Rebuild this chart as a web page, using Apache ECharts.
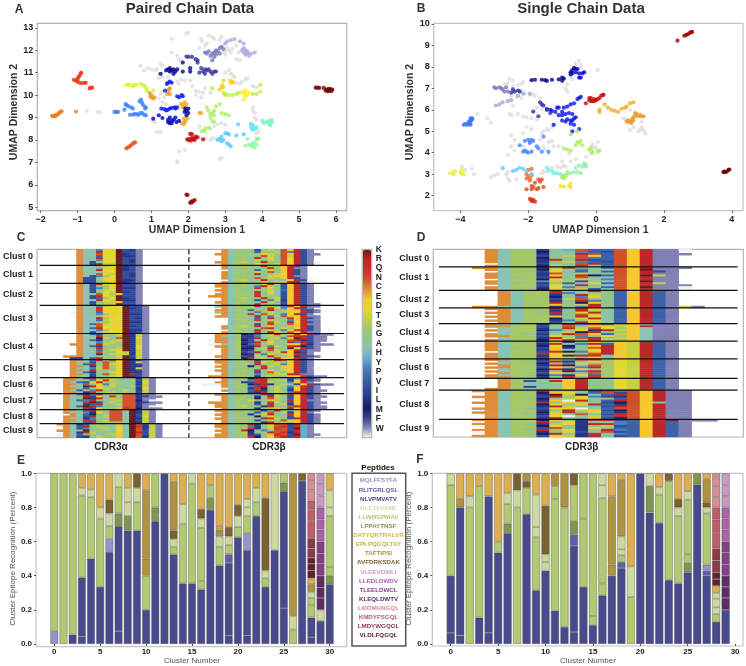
<!DOCTYPE html>
<html>
<head>
<meta charset="utf-8">
<style>html,body{margin:0;padding:0;background:#fff}#chart{width:746px;height:666px}</style>
<script src="https://cdn.jsdelivr.net/npm/echarts@6/dist/echarts.min.js"></script>
</head>
<body>
<div id="chart"></div>
<script>
// panel A, one list per UMAP cluster
const aGrey = [[2,12.78],[1.95,12.75],[1.55,12.5],[2.35,12.5],[2.37,12.4],[2.55,12.65],[2.65,12.6],[2.7,12.5],[2.9,12.6],[2.85,12.45],[2.5,12.3],[2.3,12.1],[2.45,12.2],[3,12.3],[3.05,12.1],[3.1,12],[3,11.95],[3.15,11.9],[3.2,12.05],[2.95,11.9],[3,11.8],[3.3,11.6],[3.4,11.55],[3.35,11.9],[3.3,12.2],[1.55,11.9],[1.7,11.75],[1.75,11.6],[1.8,11.55],[2.05,11.75],[1.3,11.3],[1.25,11.4],[1.15,11.15],[1,11.15],[0.9,11.2],[0.8,11.1],[0.7,11.3],[1.1,11.1],[1.2,10.9],[1.2,10.75],[1.3,10.8],[1.45,10.8],[1.8,10.7],[1.9,10.65],[1.7,10.6],[1.75,10.5],[1.5,10.3],[1.3,10.15],[1.25,10.05],[1.35,9.9],[1.3,9.7],[1.4,9.6],[1.2,9.85],[2.05,10.65],[2.1,10.4],[2.2,10.2],[2.3,10.15],[2.4,10.1],[2.45,10.3],[2.2,10],[2.35,9.9],[2.6,10.1],[3.3,10.55],[3.45,10.6],[3.55,10.7],[3.6,10.75],[3.75,10.4],[3.85,10.35],[3.4,10.5],[3.25,10.8],[3.15,10.95],[3,11],[3.1,11.1],[3.2,10.9],[3.75,9.45],[3.75,9.3],[3.8,9.2],[3.8,9],[3.85,8.9],[3.7,8.75],[3.8,8.55],[3.9,8.4],[3.85,8.3],[2.9,8.75],[3,8.7],[2.8,8.7],[2.7,8.6],[2.6,8.5],[2.3,8.6],[2.4,8.4],[1.15,8.35],[1.25,8.35],[1.1,8.8],[1.05,8.85],[2.4,8],[2.45,8.05],[2.6,8],[2.65,8.1],[2.75,8.05],[1.9,7.55],[1.75,7.5],[1.7,7.05],[1.7,7],[2.9,7.2],[2.85,7.15],[-0.75,9.3],[-0.45,9.25],[-0.4,9.22]];
const aRedOrange = [[-0.9,11],[-0.92,10.95],[-0.95,10.85],[-0.98,10.8],[-1,10.7],[-1.05,10.65],[-1.1,10.68],[-1,10.6],[-0.95,10.55],[-0.88,10.53],[-0.8,10.55],[-0.78,10.55],[-0.65,10.33],[-0.6,10.33],[-0.67,10.3]];
const aOrangeLeft = [[-1.69,9.08],[-1.66,9.05],[-1.63,9.07],[-1.6,9.1],[-1.58,9.08],[-1.55,9.13],[-1.52,9.17],[-1.5,9.2],[-1.47,9.25],[-1.43,9.28],[-1.04,9.27]];
const aOrangeLine = [[0.32,7.63],[0.36,7.66],[0.4,7.7],[0.43,7.74],[0.47,7.8],[0.5,7.84],[0.54,7.88],[0.56,7.9]];
const aMaroon = [[5.45,10.33],[5.5,10.33],[5.55,10.32],[5.67,10.32],[5.72,10.2],[5.75,10.25],[5.78,10.17],[5.8,10.28],[5.82,10.2],[5.85,10.27],[5.88,10.18],[5.9,10.25]];
const aDarkRed = [[1.95,5.57],[1.98,5.55],[2.05,5.2],[2.08,5.25],[2.1,5.22],[2.13,5.28],[2.17,5.32]];
const aRed = [[2.05,8.27],[2.1,8.26],[2.2,8.15],[2,8],[1.97,8.03],[2.03,8.05],[2.07,7.97],[2.1,8.1],[2.13,8.03],[2.17,8],[2.2,8.1],[2.25,8.12],[2.4,8.03]];
const aLime = [[0.32,10.45],[0.37,10.47],[0.42,10.45],[0.5,10.4],[0.55,10.45],[0.6,10.47],[0.72,10.5],[0.78,10.45],[0.83,10.38],[0.87,10.28],[0.87,10.2],[1.05,10.2]];
const aOrange = [[0.95,10.1],[0.97,9.95],[1,9.9],[1.05,9.85],[1.08,9.9],[1,10],[1.45,10.15],[1.47,10.25],[1.5,10.3],[1.5,10.05],[1.43,10.05]];
const aAmber = [[1.8,9.6],[1.85,9.55],[1.9,9.68],[1.9,9.45],[1.85,9.45],[1.95,9.6],[1.82,8.75],[1.87,8.7],[1.9,8.78],[1.88,8.95],[1.92,8.85],[1.98,8.95],[2.3,9.2],[2.35,9.2]];
const aGold = [[2.85,10.25],[2.9,10.35],[2.95,10.35],[2.92,10.45],[2.95,10.65],[3.13,10.65],[3.15,10.55],[3.2,10.55],[3.2,10.6]];
const aYellow = [[3.45,10.1],[3.5,10.15],[3.55,10.2],[3.6,10.05],[3.65,10.1],[3.55,9.95],[3.5,9.8],[3.55,10]];
const aYellowGreen = [[2.65,10.3],[2.95,10.1],[3,10.05],[3,10],[3.1,10],[3.2,10],[3.3,10.05],[3.35,10.1],[3.75,10.05],[3.85,10.05],[3.95,10.15],[3.95,10.45]];
const aGreen = [[2.5,9.45],[2.55,9.3],[2.6,9.15],[2.6,9],[2.65,9.2],[2.7,9.1],[2.7,9.3],[2.75,9.5],[2.85,9.6],[2.65,8.85],[2.7,8.8],[2.9,9.2],[3,9.15],[3.1,9.1],[2.55,8.55],[2.45,8.5],[2.35,8.4],[2.45,8.4]];
const aSky = [[2.8,8],[2.85,8.05],[2.9,8.15],[2.9,7.95],[2.95,8],[3,8.3],[3.05,8.3],[3.1,8.25],[3.05,7.85],[3.1,7.8],[3.15,7.72],[3.3,8.2],[3.5,8.25],[3.35,8.7]];
const aCyan = [[3.7,8.6],[3.72,8.5],[3.75,8.45],[3.8,8.5],[3.85,8.55],[3.75,8.65],[3.7,8.7]];
const aAqua = [[4,8.85],[4.05,8.75],[4.1,8.8],[4.15,8.8],[4.2,8.85],[4.25,8.9],[4.27,8.8],[4.2,8.7],[4.22,8.65]];
const aMint = [[3.6,8.05],[3.55,7.75],[3.65,7.8],[3.7,7.75],[3.75,7.85],[3.8,7.9],[3.75,7.7],[3.8,7.65],[3.85,7.8],[3.85,8.05],[3.9,8.05]];
const aLightBlue = [[0.3,9.6],[0.33,9.55],[0.38,9.5],[0.45,9.45],[0.5,9.4],[0.6,9.15],[0.42,9.12],[0.5,9.13],[0.55,9.15],[0.65,9.12],[0.7,9.2],[0.75,9.2],[0.8,9.13],[0.85,9.1],[0.68,9.72],[0.72,9.8],[0.75,9.65],[0.78,9.55],[0.85,9.45],[0.83,9.4],[0,9.25],[0.05,9.25],[0.1,9.25],[0.27,9.35]];
const aBlue = [[1.45,10.55],[1.5,10.6],[1.55,10.55],[1.42,10.5],[1.37,10.2],[1.7,9.95],[1.75,9.9],[1.85,9.95],[1.82,10],[1.63,9.45],[1.55,9.43],[1.5,9.4],[1.45,9.35],[1.4,9.32],[1.65,9.4],[1.7,9.45],[1.27,9.4],[1.35,9.38]];
const aDeepBlue = [[1.05,8.95],[1.2,9.1],[1.3,8.98],[1.45,8.9],[1.45,8.8],[1.5,8.75],[1.55,8.85],[1.55,8.75],[1.6,8.9],[1.68,8.8],[1.75,8.85],[1.5,9],[1.65,9]];
const aNavy = [[1.25,10.95],[1.4,11.1],[1.45,11.15],[1.5,11.05],[1.5,11.2],[1.55,11.1],[1.6,11.15],[1.6,10.95],[1.7,11.15],[1.65,11.05],[1.85,11.45],[1.85,11.05],[2.05,11.2],[2.05,11.05],[1.9,9.25],[1.95,9.3],[2,9.2],[1.95,9.1],[1.92,9.4],[2,9.4]];
const aIndigo = [[2.3,11],[2.4,11.05],[2.45,10.95],[2.5,11.1],[2.55,11.15],[2.6,11.05],[2.65,10.95],[2.7,11.05],[2.75,11.05],[2.45,11.15],[2.35,11.2],[2.25,11.45],[2.25,11.55],[2.2,11.6],[2.1,11.7],[2,11.7],[1.95,11.72]];
const aPurple = [[2.45,11.9],[2.5,11.85],[2.55,11.95],[2.6,11.75],[2.65,11.85],[2.7,11.9],[2.75,12],[2.8,11.95],[2.85,12.1],[2.85,11.85],[2.9,12.15],[2.95,12.05],[2.7,11.7],[2.65,11.55],[2.75,11.8]];
const aLavender = [[3,12.3],[3.05,12.4],[3.15,12.45],[3.25,12.5],[3.4,12.4],[3.5,12.3],[3.5,12.1],[3.45,12],[3.5,11.9],[3.55,11.8],[3.6,11.85],[3.65,11.75],[3.7,11.85],[3.8,11.9],[3.55,12],[3.6,11.95]];
const pairedSets = [aGrey,aRedOrange,aOrangeLeft,aOrangeLine,aMaroon,aDarkRed,aRed,aLime,aOrange,aAmber,aGold,aYellow,aYellowGreen,aGreen,aSky,aCyan,aAqua,aMint,aLightBlue,aBlue,aDeepBlue,aNavy,aIndigo,aPurple,aLavender];
const pairedSetColors = ['#dfdfdf','#e8321a','#ee7b24','#e95a20','#6b0000','#990000','#cc0a0a','#d2f530','#e8962e','#f2a820','#f5d020','#fff020','#b8f040','#a8f060','#5ac8ff','#60e8f0','#80f0c0','#90f8a0','#3a80ff','#0a1aee','#0000c8','#00008b','#33339a','#7876b8','#aaaadc'];

// panel B
const bGrey = [[-0.5,8.28],[-0.6,8.15],[-0.45,8.1],[-0.45,7.95],[0.05,7.85],[-0.75,7.55],[-0.7,7.4],[-0.85,7.2],[-0.9,7],[-0.85,6.85],[-2.55,7.45],[-2.45,7.35],[-2.6,7.25],[-2.15,7.3],[-2.2,7.2],[-2.3,7.15],[-2.45,7.1],[-2.7,7.2],[-2.2,6.9],[-2.1,6.75],[-1.95,6.7],[-1.85,6.7],[-1.8,6.65],[-2.5,6.6],[-2.35,6.6],[-2.2,6.55],[-1.65,6.55],[-2.45,6.2],[-1.75,6.1],[-1.6,6.05],[-2.55,5.8],[-2.5,5.75],[-2.3,5.8],[-2.15,5.7],[-2.05,5.65],[-1.9,5.6],[-3.5,5.8],[-3.2,5.6],[-3.1,5.4],[-1.75,5.55],[-2.05,5.2],[-1.9,5.1],[-2.15,4.9],[-1.6,4.9],[-1.55,5],[-1.45,5.1],[-1.3,5.2],[-1.25,5.3],[-1.4,5.05],[-2.5,4.8],[-2.4,4.6],[-2.5,4.3],[-2.4,4.1],[-2.15,4.3],[-1.65,4.6],[-1.4,4.5],[-1.25,4.3],[-1.1,4.3],[-1.3,4.55],[-1.55,4.3],[-1.5,4.15],[-1.4,3.95],[-2.6,3.9],[-0.8,3.95],[-0.6,3.7],[-1,3.6],[-0.95,3.4],[-0.75,3.6],[-0.1,4.4],[0.05,4.5],[0,4.25],[-0.05,4.2],[-0.15,3.95],[-0.3,3.8],[-2.6,3.1],[-2.65,3],[-3.95,3.35],[-3.85,3.2],[-3.65,3.25],[-3.6,3],[-3.1,2.85],[-3,2.95],[-2.9,3],[-2.6,2.8],[-2.55,2.7],[-2.35,2.75],[-1.55,3.15],[-1.6,3.05],[-1.45,3.1],[-1.3,3.3],[-1.15,3.35],[-1.05,3.3],[-0.9,3.35],[-1.9,3.2],[0.8,5.6],[0.9,5.55],[1.1,5.2],[1,5.05],[1.25,5],[1.3,5.1],[1.35,5.2],[1.4,5.05],[1.45,4.9],[1.35,5.45],[1,6]];
const bDarkRed = [[2.4,9.22],[2.6,9.45],[2.65,9.48],[2.7,9.52],[2.75,9.57],[2.8,9.62],[2.83,9.63]];
const bMaroon = [[3.75,3.1],[3.8,3.1],[3.85,3.12],[3.9,3.2],[3.93,3.22],[3.78,3.12]];
const bRed = [[-0.3,6.3],[-0.2,6.45],[-0.2,6.55],[-0.15,6.4],[-0.1,6.4],[-0.05,6.4],[0,6.45],[0.05,6.5],[0.1,6.55],[0.15,6.65],[0.2,6.7],[0.22,6.7],[-0.15,6.55],[-0.05,6.5]];
const bAmber = [[0.25,6.25],[0.1,6],[0.1,5.9],[0.35,6.1],[0.45,6],[0.55,5.95],[0.65,5.9],[0.75,6.05],[0.85,6.1],[0.9,6.15],[1,6.3],[1.1,6.35]];
const bOrange = [[0.9,5.45],[0.95,5.5],[1,5.4],[1.05,5.55],[1.1,5.5],[1.1,5.65],[1.15,5.7],[1.2,5.8],[1.25,5.7],[1.3,5.75],[1.35,5.7],[1.4,5.7],[1.05,5.4],[1.15,5.85]];
const bNavy = [[-1.9,7.38],[-1.8,7.4],[-1.6,7.4],[-1.5,7.38],[-1.45,7.35],[-1.3,7.4],[-1.1,7.42],[-1,7.35],[-1,7.5],[-0.95,7.45],[-0.75,7.75],[-0.7,7.85],[-0.65,7.95],[-0.6,7.9]];
const bDeepBlue = [[-0.75,7.65],[-0.7,7.7],[-0.6,7.75],[-0.55,7.9],[-0.5,7.7],[-0.4,7.7],[-0.35,7.75],[-0.5,7.5],[-0.45,7.5]];
const bBlue = [[-1.45,6],[-1.35,6],[-1.3,5.95],[-1.2,5.9],[-1.15,6.1],[-1.1,6.1],[-1,5.9],[-0.95,6.1],[-0.85,6.15],[-0.75,6.25],[-0.65,6.3],[-0.55,6.5],[-0.5,6.55],[-0.45,6.6],[-1.1,5.75],[-1,5.75],[-0.9,5.8],[-0.8,5.85],[-0.7,5.8],[-0.65,5.6],[-0.6,5.65],[-1.25,5.3],[-1,5.5],[-0.9,5.45],[-0.85,5.55],[-0.75,5.35],[-0.7,5.5],[-0.65,5.3],[-0.7,5],[-0.5,5.1],[-0.75,5.5]];
const bIndigo = [[-1.85,5.92],[-1.65,6.35],[-1.6,6.25],[-1.55,6.2],[-1.45,6.05],[-1.7,5.7],[-1.35,5.85],[-2.45,6.95],[-2.4,6.85],[-2.3,6.9],[-2.25,6.85],[-2.5,6.8]];
const bPurple = [[-3,7.05],[-2.95,7],[-2.85,7.05],[-2.8,7],[-2.75,6.95],[-2.7,6.85],[-2.6,6.85],[-2.65,7.05]];
const bLavender = [[-2.95,6.2],[-2.85,6.25],[-2.75,6.35],[-2.6,6.4],[-2.5,6.45],[-2.3,6.65],[-2.15,6.75],[-1.95,6.75]];
const bRoyal = [[-3.9,5.3],[-3.8,5.3],[-3.75,5.35],[-3.7,5.3],[-3.85,5.35],[-3.75,5.45],[-3.7,5.4],[-3.7,5.6],[-3.65,5.55],[-3.7,5.5],[-3.65,5.6]];
const bBlueMid = [[-2.1,4.55],[-2,4.6],[-1.95,4.5],[-1.9,4.6],[-1.85,4.55],[-1.95,4.45],[-2.25,4.35],[-2.1,4.1],[-2.15,4.05],[-2.05,4.05],[-2,4],[-1.9,4.05],[-1.7,4.2],[-1.6,4.05],[-1.4,4.05],[-1.75,4.3],[-1.55,4.75]];
const bOrangeDark = [[-2.05,3],[-2,3.2],[-2,2.9],[-1.95,2.8],[-2.05,2.8],[-1.9,2.95],[-1.9,3.25],[-1.95,2.7]];
const bOrangeRed = [[-2.05,2.3],[-1.9,2.45],[-1.9,2.3],[-1.85,2.4],[-1.75,2.3],[-1.7,2.35],[-1.8,2.6],[-1.7,2.75],[-1.6,2.75],[-1.55,2.4],[-1.65,2.65]];
const bRedOrange = [[-1.95,1.85],[-1.9,1.8],[-1.85,1.75],[-1.8,1.72],[-1.85,1.8],[-1.9,1.75]];
const bLime = [[-4.3,3.05],[-4.2,3.1],[-4.2,3],[-4.15,3.15],[-3.95,3.2],[-4,3.1],[-3.95,3],[-3.9,3]];
const bYellow = [[-1.05,2.45],[-0.95,2.42],[-0.8,2.45],[-0.75,2.55],[-0.75,2.4]];
const bGreen = [[-0.95,4.2],[-0.85,4.15],[-0.75,4.1],[-0.6,4.35],[-0.55,4.5],[-0.45,4.55],[-0.5,4.45],[-0.4,4.35],[-0.2,4.15],[-0.15,4.25],[-0.15,4.1],[-0.1,4],[0.05,4.05],[0.1,4.1],[-0.75,4.85],[-0.55,5]];
const bMint = [[-0.85,3.1],[-0.75,3.05],[-0.65,3.1],[-0.55,3.1],[-0.6,3.3],[-0.45,3.05],[-0.35,3.5],[-0.4,3.35],[-0.3,3.35],[-0.3,3.45],[-0.5,3.4]];
const bAqua = [[-1.45,3.3],[-1.4,3.2],[-1.3,3.15],[-1.25,3.05],[-1.15,3.05],[-1.05,3]];
const bSky = [[-2.75,3.28],[-2.45,3.15],[-2.35,3.2],[-2.25,3.3],[-2.15,3.25],[-2.05,3.15],[-1.9,3]];
const bYellowGreen = [[-1,2.85],[-0.95,2.95],[-0.9,2.9],[-0.95,2.8],[-0.85,3]];
const singleSets = [bGrey,bDarkRed,bMaroon,bRed,bAmber,bOrange,bNavy,bDeepBlue,bBlue,bIndigo,bPurple,bLavender,bRoyal,bBlueMid,bOrangeDark,bOrangeRed,bRedOrange,bLime,bYellow,bGreen,bMint,bAqua,bSky,bYellowGreen];
const singleSetColors = ['#dfdfdf','#9a0000','#6b0000','#cc0a0a','#f5ab20','#ea9a28','#00008b','#0000cc','#0a14ee','#30309a','#7b78b8','#a8a8d8','#3a6fff','#4488ff','#e8702a','#e04a1a','#e02a10','#e4f53a','#f5e020','#a8f060','#90f0b0','#70f0e0','#60c8ff','#aaf060'];

// residues from the bottom of the colour bar to the top
const residues = 'WFMLIVPYHAGSTDECNQRK';
const residueColors = ['#f0f0f5','#8080b4','#3a3a8e','#1c1c60','#25358a','#2f4d9c','#3c62aa','#4a80b8','#60b0d0','#88c3b3','#92c48c','#a4c768','#c6d040','#e0d830','#f5c830','#df8c36','#d05028','#c83028','#bc2828','#6a1820'];

const clusterNames = ['Clust 0','Clust 1','Clust 2','Clust 3','Clust 4','Clust 5','Clust 6','Clust 7','Clust 8','Clust 9'];

// panel C: one row per receptor, alpha starts at column 3, beta at column 25
const alphaColStart = 3;
const betaColStart = 25;
const pairedClusterSizes = [8,9,11,14,13,9,8,8,7,7];
const pairedAlpha = [
'...CAAYDDKVIF...','...CAGRDDKVVF...','...CAANDDKIVF...','...CAAPDDKIIF...','...CAGRDDKVVF...','...CAAYDDKVIF...','...CAVGDDKVIF...','...CAVQTTKVVF...',
'...CAAGTDKIVF...','...CAAHEEKIVF...','...CAARDDKIVF...','...CAAAEDKVVF...','...CAGNDTKVIF...','...CAVYSDKVIF...','...CVVGDDKVVF...','...CVVAEDKIIF...','...CVVGTDKIVF...',
'...CAVRTDKVVF...','...CAVGSDKVVF...','...CAVYSDKIIF...','...CAVATDKVVF...','...CAVGDTKIVF...','...CAANDSDVVF...','...CAVRDTKVVF...','...CAVPSDKIVF...','...CAARDTKIIF...','...CAVGTTEVVF...','...CAVSTTKVVF...',
'...CAAYTDDKVVF..','...CAARDEDKIVF..','...CAGQDDDKVVF..','..WCAAPEEDKVVF..','...CAGYSDDKIIF..','...CAAAEEDKVVF..','...CAARSDDKVIF..','...CAAPTDDKVVF..','...CAAGSEDKIIF..','...CAPNTDDKVVF..','...CAANDDDKIVF..','...CAPRDEDKVVF..','...CAAYSDDKIIF..','...CAVAEDEKIVF..',
'...CAPVGSTKITF..','...CAGRSASKITF..','...CAALTGNKIDF..','...CAPIGSEKITF..','...CAAYSTGKITF..','..CCAGRTSGKITF..','...CAPMGASKIDF..','...CAARGSTKIDF..','...CAGPSTEKITF..','...CAANSGDTITF..','...CAAIGTTTITF..','.CCCAAGSATKVTF..','..IIAPRGSTKITF..',
'..CCAPRGNEKIVF..','..CAGVANGDKITF..','..CAPRSNTEKIVF..','..CCAIGNSEKIIF..','..CAGYTNGDKITF..','..CCARSGSEKIVF..','..CAPIAGTEKIIF..','..CCAVGNSDKRVF..','..CGAIGGTDKIVF..',
'.CCAPRGSTAGSITF.','.CCAGYEQTGASVTF.','.CAPVDRGSSAGIDF.','.CCANGEYTSAGITF.','.CAGIRDGTAGSVTF.','.CCAPSETGSAGIDF.','.CAPGYRSAGTGITF.','.CCAIQGSTASGVTF.',
'.CAPKYRGSTNNIFF.','.CAGRVEAQGNNIMFF','.CAAKIRGTSNNIFF.','.CAPYRGASTNNLFW.','.CAGQKVGTANNIMFF','.CAAIPRSGTNNIFF.','.CAPKRYGASNNIFW.','.CAGRVDGSTQNLFFF',
'.CCAPRGSNNGKVTF.','.CAGYIEANNGKITF.','..CAPLGSNNAKVTF.','.CCAVRGTNNGKVDF.','.CAGIYSANNAKITF.','.CCARPGTNNGKVTF.','.CAGPRGSSGAKITF.',
'CCAIPGSAGEAKNVTF','WCAPRGTSGEGKQITF','.CAVYGSTAEAKNITF','CCAGKGSAGDGKNVTF','.CAIRTGSGEAKRVTF','WCAPGSAGTEGKNVTF','.CAVIGTSAEAKNITF'
];
const pairedBeta = [
'...CASSGVGTGNERVF...','...CAGSGPSGTNYRVF...','..CCASGSGETANERVFF..','...CASSAGNTANTRVF...','...CAGSGRGEGNERVF...','...CASSGTGTSNDRVF...','..CCASTGSRGANERVFW..','...CASSGDGSTNERVF...',
'...CASSAGRTGERVF....','...CAGSGSGQSERFF....','....ASGSPGTGERVF....','...CASSGTGNAERVF....','...CASGSRGSTDRVF....','...CAGSGAGTEERFF....','...CASSGNGTSERVF....','....ASTGGRGAGERVW...','...CASSAGEGTERVF....',
'..CCASSGGTRGVERVF...','..CCAGSGYRTGVERVF...','...CASGAQGTAVERVF...','..CCASGSGSTGPERVF...','...CAGSGRGEAVERVF...','..CCASSGQGTAVERVF...','.CCCASGSRGSGVERVF...','...CASTGGRGTVERVF...','...CAGSGVGYTIERVF...','..CCASSGGRTAVERVF...','...CASGGQGSAVERVFF..',
'.WACASSGRGTGYQERFF..','...CASGSAGQTYERVF...','..CCASGPGSRGSETRVF..','..GCAGSGYGTAGEERVF..','...CASGQGNTAYERVFW..','..CCASSGRGYTNTERFF..','....ASGAPGRGAQERVF..','....ASSGQGTGSYERFF..','....AGSGGGNTARDRVF..','....ASGSVGQSGNERFF..','...CASTGRGEAGTERVF..','...CASSGGNRGTAERVF..','....ASGGRGTSYEQRVF..','...CAGSGQGRTSNERFF..',
'..CCASLIPGSRGTRERVFF','..CAASMIYGTSGNQRVFF.','..CCAGIMRGSTYEKRVFF.','.WCCASLVGRTGSNRIVFFW','..CCASIMQGEAGRYRVF..','.WWAASLPNGTSGEERIFFF','..CCGSMIRGYTAQRLVF..','...CASLLGTRGSKERVF..','...CAGIMSGNTAERVFF..','...CASMPRGSTQEKVF...','...CASLIGYEGTERVF...','..CCAGVMTGRSAEIRVF..','...CASLRGTGQEERVF...',
'..CCASGGVGTRNTRVF...','..CCASSGQEGTAERVF...','...CAGSGRGSTYERVF...','..CCASGLGQTGEERVF...','...CASSGGRAGTERVFW..','..CCAGSGRGEATERVF...','...CASSGVGNTGERVF...','...CASGGYGSTTRRFF...','.CCCASSGIGTGAEERVFF.',
'...CASGLRRGTAVYRVF..','...CAGSYQRGSTIERVF..','..CCASIVQRTGAYERF...','WWWCASSLMRIGTAVERVFF','...CASGYRRSTAYERVF..','....ASSIQLGTGVERVF..','...CAGSPRIGTAIERVFF.','....ASGVIRGTSYRRVF..',
'..CCASGGGQVTGRERVF..','...CAGSGIGRTSVERVFF.','...CASSGLGNTAVERVF..','...CASGEGGTSGRERFF..','.CCCASSGIGQTGVERVFF.','..CCAGSGVGRSTIERVF..','..CCASTGGIRGANRRVFF.','...CASGGIGSTSVERVFF.',
'..CCASGGTIGRSGERVF..','...CAGSGVGNGTIERF...','..CCASGIGTRGAQERVF..','...CASGGLGEGSVERVF..','..CCASSGGRQTAVRRVF..','...CAGSGVGTSNEERVF..','...CASSGGIRGTGERVF..',
'..CCASGRIGTNNVRHF...','..CCASSYIGENQVRHF...','...CAGSQIGTQNVKHF...','..CCASRLGYANNVRHF...','...CASTIGSRNQIRHF...','..CCAGSIPGTRNVKHFF..','..CCASSRLGENRVRHF...'
];

// panel D: beta only, starts at column 3
const singleColStart = 3;
const singleClusterSizes = [9,12,9,8,9,9,10,6,15,9];
const singleBeta = [
'.CASSIGHNPPNERFFW..','.CASSLGAYPVNERFF...','.CASSIAGRNPNERFFF..','.CASSVGTNEPNERFF...','.CASSLGANYPNERFF...','.CASSIQGRVPNERFF...','.CASSIGTYPVNERFF...','..ASSVGANRPNERFF...','.CASSLTGQAPNERFF...',
'CCASSIGRGAVNERFFF..','.CASSLDGYGANEKFF...','..ASGVEAPGPNERVF...','.CASSINGTAGNERFF...','.CASSIDARLPNEKTF...','.CAGSVRGNGANERFF...','..ASSLEGTAYNERFF...','.CASSYTSVGANEKFF...','.CAGSIGPAEPNERTF...','..ASSVDGRGANERFFF..','.CASSIDYGGPNEKFFW..','.CASSLEGTVANERFF...',
'..CASSVGARGPERPF...','..CASSRYAGGPERPF...','..CASSIARTGPERPF...','..CASSLGYEGPERPF...','..CASSVTNGGPERPF...','..CASSIARYGPERPF...','..CASSRGLEGPERPF...','..CASSEGTRGPERPF...','CCAASSIGYRGPERPFTF.',
'.CCASSRGQEAPERPF...','..CASSIARTGPERPF...','.CCASGRGDRAPERPF...','..CASSVANTAPERPF...','.CCASSEGRDGPERPF...','..CASSLGTRAPERPF...','.CCASSIYGDAPERPF...','..CASSVGRTGPERPF...',
'.CASSIGRYNPTEAFF...','.CCSSVGNGEDTERFF...','..ASSIARTNDSEAFF...','.CASSLYGEIRTEAFF...','..ASSVGTLRGSEAFF...','.CASGIGRNEPTEAFF...','.CCSSVEGYGDSEAFF...','..ASSIRTNRGTEAFF...','.CASSLGNGQDSEAFF...',
'.CASSVEIGEAETRPF...','.CASSIQAYRPETRPF...','.CASSLDLGERETRPF...','.CAGSVEIANRETRPF...','.CASSIEAGDRETRPF...','..ASSVQLYERETRPF...','.CASSRETGNRETRPF...','.CASSIDIRQAETRPF...','.CASSVETGEAETRPF...',
'.CCSSIEGRRSDTRPF...','..ASGVRIAESDTRPF...','.CASSLGYEGSDTRPF...','..CSSIRKANSDTRPF...','.CCSSVEGYRSDTRPF...','..ASSLRIEGSDTRPF...','.CASSIGKYRSDTRPF...','..CSGVEGANSDTRPF...','.CASSLYIEPSDTRPF...','.CCSSIGRGRSDTRPF...',
'..CSAGAERGGDTRPF...','..CSVARERGGDTRPF...','..CSAGSERGGDTRPF...','..CSAAGERGGDTRPF...','..CSVGAERGGDTRPF...','.CCSAGSERGGDTRPF...',
'CCASSRGAGVPYNERFF..','.CASSLEDGPNVNERFF..','.CASSIKTLAPRNERFF..','CCASSVRGEYVINERFF..','.CASGLGTDAGPNERFF..','.CASSIEWRGPRNERFF..','CCASSRGDTAVLNEAFF..','.CASSLDGERPINERFF..','.CASSIRTGAVRNERFF..','CCASGVDEWGPNNERFF..','.CASSIGRTEVLNERFF..','CCASSLTRGDPINERFF..','.CASGIEGNAVRNERFF..','.CASSVDWGTPRNERFF..','.CASSIRGAEVLNERFF..',
'CCAGSLTGIQRVPERKFFF','WCASSRGEIAGYPERPF..','CCASGITDIRQYPERPF..','WCASSLEAIGTVPERPF..','.CASSVNGIEAPPERPF..','CCASGRSDIGRYPERPF..','WCASSIGEVANVPERPF..','.CASGLRAIQGYPERPF..','CCASSVETIRAVPERPF..'
];

// peptides, legend order, one letter each for the stack lists below
const peptides = ['MQLFFSYFA','RLITGRLQSL','NLVPMVATV','GLCTLVAML','LLWNGPMAV','LPPAYTNSF','DATYQRTRALVR','EPLPQGQLTAY','TAFTIPSI','AVFDRKSDAK','VLEEVDWLI','LLEDLDWDV','TLEELDWCL','KLEQLDWTV','LMDMHNGQL','KMDYFSGQL','LMDYWGQGL','VLDLFQGQL'];
const peptideKeys = 'mrnpgodetavlckhfwq';
const peptideColors = ['#9494cc','#5d60a8','#484a8e','#ced9a0','#b1c972','#7f9650','#dcb052','#c9ad50','#ae9340','#7c6132','#c79ac5','#ac62a8','#853f85','#5f2d62','#d98d95','#c05c6c','#8b3a4a','#5f2431'];

// panel E: per cluster, peptide key then the top of its segment
const clusterNumbers = ['0','1','2','3','4','5','6','7','8','9','10','11','12','13','14','15','16','17','18','19','20','21','22','23','24','25','26','27','28','29','30'];
const pairedStacks = [
['m',.075,'g',1],['g',1],['n',.055,'g',1],['n',.045,'n',.39,'g',.87,'p',.915,'d',1],['n',.5,'g',.86,'p',.905,'d',1],['n',.335,'g',.735,'p',.8,'d',1],
['n',.54,'m',.615,'g',.69,'p',.765,'a',.845,'d',1],['n',.075,'n',.69,'o',.765,'g',.92,'p',1],['n',.665,'o',.75,'p',.83,'p',.915,'d',1],['n',.665,'g',.83,'p',.915,'a',1],
['n',.2,'g',.4,'t',.5,'t',.9,'d',1],['n',.72,'o',.755,'o',.8,'g',1],['n',1],['n',.525,'g',.57,'p',.615,'a',.665,'t',.95,'d',1],['n',.355,'g',.705,'p',.82,'d',1],
['n',.355,'g',.94,'p',1],['n',.32,'g',.37,'g',.68,'p',.735,'a',.79,'d',1],['n',.785,'o',.855,'g',.93,'d',1],['n',.46,'g',.57,'p',.63,'t',.655,'t',.67,'e',.69,'d',1],
['n',.05,'n',.475,'r',.525,'g',.58,'p',.63,'a',.685,'d',1],['n',.625,'g',.685,'p',.75,'a',.815,'d',1],['n',.05,'n',.55,'m',.65,'g',.75,'p',.8,'p',.85,'d',1],['n',.75,'g',.83,'p',.915,'d',1],
['n',.335,'g',.385,'p',.43,'a',.855,'d',1],['n',.55,'p',1],['n',.21,'n',.895,'o',.945,'g',1],['g',.085,'p',.165,'t',1],['n',.955,'a',1],
['n',.04,'n',.155,'g',.23,'g',.27,'p',.305,'t',.35,'d',.385,'q',.43,'q',.47,'q',.505,'w',.56,'w',.62,'f',.72,'f',.785,'f',.84,'h',.9,'h',.96,'h',1],
['n',.135,'p',.2,'k',.27,'k',.33,'k',.4,'c',.47,'c',.53,'c',.6,'l',.67,'l',.73,'l',.8,'v',.87,'v',.935,'v',1],
['n',.35,'o',.4,'g',.45,'g',.75,'p',.8,'p',.9,'d',1]
];
// panel F
const singleStacks = [
['n',.065,'n',.4,'g',.93,'p',1],['n',.05,'n',.8,'t',.85,'d',1],['g',.8,'p',.865,'d',1],['n',.155,'g',.925,'d',1],['n',.065,'n',.865,'d',1],['n',.535,'g',.6,'d',1],
['n',.65,'o',.705,'g',.82,'p',.885,'d',1],['g',.8,'p',.9,'a',1],['n',.76,'g',.915,'a',.955,'t',1],['n',.315,'g',.625,'p',.685,'p',.875,'d',1],['n',.43,'p',.48,'p',.525,'a',.81,'d',1],
['n',.195,'g',.85,'g',.925,'t',1],['n',.1,'g',.8,'t',1],['n',.07,'n',.575,'r',.64,'o',.72,'g',.93,'a',1],['n',.335,'g',.735,'g',1],['n',.11,'g',.165,'g',1],
['n',.285,'g',.355,'g',.855,'p',.93,'p',1],['n',.4,'t',.465,'t',.865,'d',1],['n',.445,'r',.48,'g',.52,'p',.555,'p',.63,'t',.96,'d',1],['g',.275,'p',.455,'d',1],['n',1],
['n',.77,'o',.925,'p',1],['n',.71,'g',.875,'p',.92,'d',1],['n',.375,'g',.955,'a',1],['n',.355,'g',.75,'p',.8,'a',.85,'d',1],['n',.42,'o',.475,'g',.525,'g',.845,'p',.895,'d',1],
['n',.935,'o',1],['n',.4,'r',.43,'m',.465,'g',.765,'p',.8,'a',.83,'t',.965,'d',1],
['n',.13,'g',.175,'p',.215,'p',.265,'p',.3,'d',.34,'q',.38,'q',.42,'w',.49,'w',.56,'f',.65,'f',.73,'f',.8,'h',.86,'h',.925,'h',.975,'h',1],
['n',.2,'k',.27,'k',.335,'k',.4,'c',.465,'c',.535,'c',.6,'l',.67,'l',.735,'l',.8,'v',.865,'v',.93,'v',1]
];

const font = 'Liberation Sans';
const dark = '#222';
const frame = '#b4b4b4';

const pairedXTicks = [-2,-1,0,1,2,3,4,5,6];
const pairedYTicks = [5,6,7,8,9,10,11,12,13];
const singleXTicks = [-4,-2,0,2,4];
const singleYTicks = [2,3,4,5,6,7,8,9,10];

const minus = v => String(v).replace('-', '\u2212');

function tickAxis(gridIndex, min, max, ticks, extra) {
  return Object.assign({
    type: 'value', gridIndex, min, max, splitLine: {show: false},
    axisLine: {show: false, onZero: false},
    axisTick: {show: true, length: 2, customValues: ticks, lineStyle: {color: '#555'}},
    axisLabel: {customValues: ticks, formatter: minus, color: dark, fontFamily: font, fontWeight: 'bold', fontSize: 9, margin: 4}
  }, extra);
}

// padding nudges the name off the middle of the axis, as in the reference
function umapName(text, gap, padLeft) {
  return {name: text, nameLocation: 'middle', nameGap: gap, nameTextStyle: {color: '#333', fontFamily: font, fontWeight: 'bold', fontSize: 10.5, padding: [0, 0, 0, padLeft]}};
}

function rowLabels(sizes) {
  const out = [];
  sizes.forEach((n, c) => {
    for (let i = 0; i < n; i++) out.push(i === Math.floor((n - 1) / 2) ? clusterNames[c] : '');
  });
  return out;
}

function hiddenCat(gridIndex, count) {
  return {type: 'category', gridIndex, show: false, data: Array.from({length: count}, (_, i) => i)};
}

function rowAxis(gridIndex, sizes) {
  return {
    type: 'category', gridIndex, inverse: true, data: rowLabels(sizes),
    axisLine: {show: false}, axisTick: {show: false}, splitLine: {show: false},
    axisLabel: {interval: 0, color: dark, fontFamily: font, fontWeight: 'bold', fontSize: 9, margin: 4}
  };
}

function overlayX(gridIndex, max) { return {type: 'value', gridIndex, min: 0, max, show: false}; }
function overlayY(gridIndex, max) { return {type: 'value', gridIndex, min: 0, max, inverse: true, show: false}; }

const stackX = (gi, padRight) => ({
  type: 'category', gridIndex: gi, data: clusterNumbers,
  axisLine: {show: false, onZero: false},
  axisTick: {show: true, length: 2, interval: 4, alignWithLabel: true, lineStyle: {color: '#555'}},
  axisLabel: {interval: 4, color: dark, fontFamily: font, fontWeight: 'bold', fontSize: 8, margin: 4},
  name: 'Cluster Number', nameLocation: 'middle', nameGap: 13, nameTextStyle: {color: '#555', fontFamily: font, fontSize: 8, padding: [0, padRight, 0, 0]}
});
const xAxes = [
  tickAxis(0, -2.09, 6.29, pairedXTicks, umapName('UMAP Dimension 1', 14, 10)),
  tickAxis(1, -4.785, 4.33, singleXTicks, umapName('UMAP Dimension 1', 14, 24)),
  hiddenCat(2, 47),
  overlayX(2, 47),
  {type: 'value', gridIndex: 3, min: 0, max: 1, show: false},
  hiddenCat(4, 24),
  overlayX(4, 24),
  stackX(5, 0),
  stackX(6, 10)
];
const nRowsC = pairedAlpha.length;
const nRowsD = singleBeta.length;
const stackY = (gi, offset) => ({
  type: 'value', gridIndex: gi, min: 0, max: 1, interval: 0.2, offset, splitLine: {show: false}, axisLine: {show: false, onZero: false},
  axisTick: {show: true, length: 2, lineStyle: {color: '#555'}},
  axisLabel: {formatter: v => v.toFixed(1), color: dark, fontFamily: font, fontWeight: 'bold', fontSize: 8, margin: 4},
  name: 'Cluster Epitope Recognition (Percent)', nameLocation: 'middle', nameGap: 15, nameTextStyle: {color: '#555', fontFamily: font, fontSize: 8}
});
const yAxes = [
  tickAxis(0, 4.85, 13.2, pairedYTicks, umapName('UMAP Dimension 2', 18, 10)),
  tickAxis(1, 1.3, 10.03, singleYTicks, umapName('UMAP Dimension 2', 16, 10)),
  rowAxis(2, pairedClusterSizes),
  overlayY(2, nRowsC),
  {
    type: 'value', gridIndex: 3, min: 0, max: 20, interval: 1, position: 'right',
    splitLine: {show: false}, axisLine: {show: false}, axisTick: {show: false},
    axisLabel: {formatter: v => v === 0 ? '' : residues[v - 1], color: dark, fontFamily: font, fontWeight: 'bold', fontSize: 8.5, margin: 4}
  },
  rowAxis(4, singleClusterSizes),
  overlayY(4, nRowsD),
  stackY(5, 13.7),
  stackY(6, 13.66)
];

function heatData(rows, colStart) {
  const out = [];
  rows.forEach((row, r) => {
    for (let i = 0; i < row.length; i++) {
      if (row[i] !== '.') out.push([colStart + i, r, residues.indexOf(row[i])]);
    }
  });
  return out;
}

function clusterLines(sizes, x0, x1) {
  const out = [];
  let sum = 0;
  sizes.slice(0, -1).forEach(n => {
    sum += n;
    out.push([x0, sum], [x1, sum], ['-', '-']);
  });
  return out;
}

const series = [];
pairedSets.forEach((pts, i) => series.push({type: 'scatter', xAxisIndex: 0, yAxisIndex: 0, data: pts, symbolSize: 4.2, itemStyle: {color: pairedSetColors[i]}, silent: true}));
singleSets.forEach((pts, i) => series.push({type: 'scatter', xAxisIndex: 1, yAxisIndex: 1, data: pts, symbolSize: 4.2, itemStyle: {color: singleSetColors[i]}, silent: true}));

const heatIdx = series.length;
series.push({type: 'heatmap', xAxisIndex: 2, yAxisIndex: 2, data: heatData(pairedAlpha, alphaColStart).concat(heatData(pairedBeta, betaColStart)), progressive: 0, silent: true});
series.push({type: 'heatmap', xAxisIndex: 5, yAxisIndex: 5, data: heatData(singleBeta, singleColStart), progressive: 0, silent: true});

const cutLine = (xi, data) => ({type: 'line', xAxisIndex: xi, yAxisIndex: xi, data, symbol: 'none', silent: true, lineStyle: {color: '#111', width: 1.2}, z: 5});
series.push(cutLine(3, clusterLines(pairedClusterSizes, 0.4, 46.6)));
series.push(cutLine(6, clusterLines(singleClusterSizes, 0.44, 23.56)));
series.push({type: 'line', xAxisIndex: 3, yAxisIndex: 3, data: [[23.05, 0], [23.05, nRowsC]], symbol: 'none', silent: true, lineStyle: {color: '#111', width: 1.2, type: [5, 3]}, z: 5});

function stackSeries(stacks, axisIndex, barWidth, tag) {
  const layers = Math.max(...stacks.map(s => s.length / 2));
  for (let k = 0; k < layers; k++) {
    const data = stacks.map(s => {
      if (k * 2 >= s.length) return {value: '-'};
      const prev = k === 0 ? 0 : s[k * 2 - 1];
      return {
        value: s[k * 2 + 1] - prev,
        itemStyle: {color: peptideColors[peptideKeys.indexOf(s[k * 2])]}
      };
    });
    series.push({
      type: 'bar', xAxisIndex: axisIndex, yAxisIndex: axisIndex, stack: tag, barWidth, data, silent: true,
      itemStyle: {borderColor: 'rgba(70,70,60,0.55)', borderWidth: 0.7}
    });
  }
}
stackSeries(pairedStacks, 7, 8, 'paired');
stackSeries(singleStacks, 8, 8.3, 'single');

const label = (x, y, text, size, color, weight, align) => ({
  type: 'text', x, y, silent: true,
  style: {text, fill: color || dark, fontFamily: font, fontSize: size, fontWeight: weight || 'bold', align: align || 'center', verticalAlign: 'middle'}
});
const box = (x, y, width, height, stroke, lineWidth) => ({
  type: 'rect', silent: true, shape: {x, y, width, height}, style: {fill: 'none', stroke, lineWidth}
});

const graphic = [
  label(190, 8.5, 'Paired Chain Data', 15, '#333'),
  label(581, 8.5, 'Single Chain Data', 15, '#333'),
  label(19, 10, 'A', 12, '#333'),
  label(421, 8.5, 'B', 12, '#333'),
  label(21, 238, 'C', 12, '#333'),
  label(421, 238, 'D', 12, '#333'),
  label(21, 461, 'E', 12, '#333'),
  label(420, 460, 'F', 12, '#333'),
  label(111, 447, 'CDR3\u03b1', 10),
  label(269, 447, 'CDR3\u03b2', 10),
  label(581.7, 447, 'CDR3\u03b2', 10),
  label(378, 467.7, 'Peptides', 8, '#111'),
  box(352, 473.3, 53.7, 172.7, '#555', 1.5),
  box(36, 473.3, 310.7, 173.4, '#c4c4c4', 1.2),
  box(432.3, 473.3, 310.7, 172.7, '#c4c4c4', 1.2)
];
peptides.forEach((p, i) => graphic.push(label(378.5, 480.7 + i * 9.12, p, 6.2, peptideColors[i])));

const grid = (left, top, width, height, color) => ({left, top, width, height, show: true, borderColor: color || frame, borderWidth: 1.2, backgroundColor: 'transparent', containLabel: false});

const chart = echarts.init(document.getElementById('chart'), null, {renderer: 'canvas'});
chart.setOption({
  animation: false,
  backgroundColor: '#fff',
  textStyle: {fontFamily: font},
  tooltip: {show: false},
  grid: [
    grid(37.3, 23.3, 309.4, 187.4),
    grid(433.7, 23.3, 309.3, 187.4, '#c4c4c4'),
    grid(36.7, 249.3, 310, 188.4),
    grid(362.3, 249.3, 9.4, 188.4),
    grid(433.3, 249.3, 310, 187.7),
    {left: 49.71, top: 473.3, width: 284.6, height: 173.4},
    {left: 445.96, top: 473.3, width: 293.9, height: 172.7}
  ],
  xAxis: xAxes,
  yAxis: yAxes,
  visualMap: {
    type: 'continuous', min: 0, max: 19, seriesIndex: [heatIdx, heatIdx + 1], dimension: 2,
    left: 362.8, top: 249.8, itemWidth: 8.4, itemHeight: 187.4, padding: 0, text: null, calculable: false, realtime: false,
    inRange: {color: residueColors}
  },
  graphic,
  series
});
</script>
</body>
</html>
